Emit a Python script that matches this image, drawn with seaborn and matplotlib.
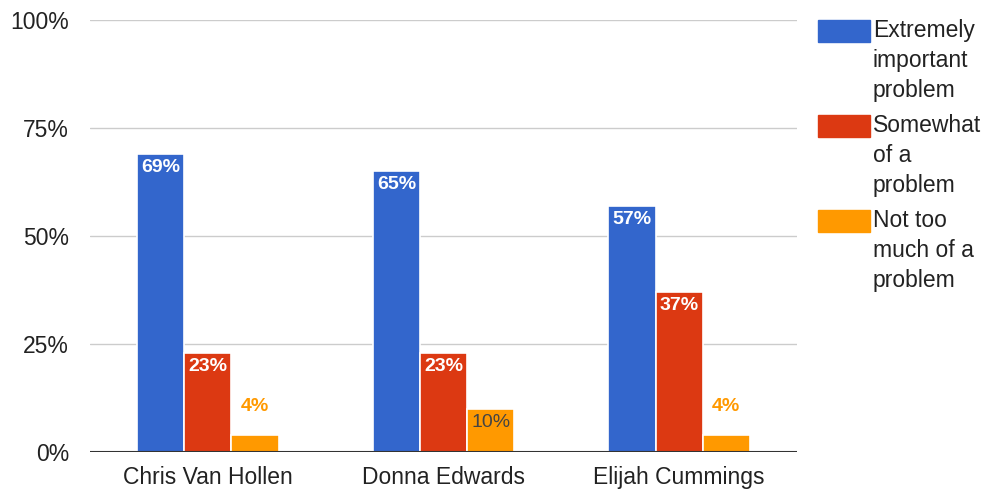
import matplotlib
matplotlib.use("Agg")
import matplotlib.pyplot as plt
import pandas as pd
import seaborn as sns
from matplotlib.patches import Rectangle

# data
candidates = ["Chris Van Hollen", "Donna Edwards", "Elijah Cummings"]
responses = ["Extremely important problem", "Somewhat of a problem",
             "Not too much of a problem"]
legendLabels = ["Extremely\nimportant\nproblem", "Somewhat\nof a\nproblem",
                "Not too\nmuch of a\nproblem"]
extremely = [69, 65, 57]
somewhat = [23, 23, 37]
notMuch = [4, 10, 4]

colors = ["#3366cc", "#dc3912", "#ff9900"]

rows = []
for i, c in enumerate(candidates):
    for r, vals in zip(responses, [extremely, somewhat, notMuch]):
        rows.append({"Candidate": c, "Response": r, "Percent": vals[i]})
df = pd.DataFrame(rows)

sns.set_style("white")
plt.rcParams['font.family'] = ['Liberation Sans', 'DejaVu Sans']

W, H = 985, 491
fig = plt.figure(figsize=(9.85, 4.91), dpi=100)
ax = fig.add_axes([90 / W, 1 - 452 / H, 707 / W, 432 / H])

sns.barplot(data=df, x="Candidate", y="Percent", hue="Response",
            order=candidates, hue_order=responses, palette=colors,
            width=0.6, edgecolor="white", linewidth=1.2, saturation=1,
            legend=False, ax=ax, zorder=3)

ax.set_ylim(0, 100)
ax.set_xlim(-0.5, 2.5)
ax.set_yticks([0, 25, 50, 75, 100])
ax.set_yticklabels(["0%", "25%", "50%", "75%", "100%"])
ax.yaxis.grid(True, color="#cccccc", linewidth=1, zorder=0)
ax.axhline(0, color="#333333", linewidth=1.5, zorder=4)
for s in ax.spines.values():
    s.set_visible(False)
ax.set_xlabel("")
ax.set_ylabel("")
ax.tick_params(axis="both", length=0, labelsize=16.5, colors="#222222")
ax.tick_params(axis="x", pad=10)
ax.tick_params(axis="y", pad=15)

# value labels
for container, col in zip(ax.containers, colors):
    for bar in container:
        h = bar.get_height()
        xc = bar.get_x() + bar.get_width() / 2
        txt = f"{h:.0f}%"
        if h >= 15:
            ax.text(xc, h - 1.2, txt, ha="center", va="top", color="white",
                    fontsize=14, fontweight="bold", zorder=5)
        elif h >= 8:
            ax.text(xc, h - 1.2, txt, ha="center", va="top", color="#444444",
                    fontsize=14, zorder=5)
        else:
            ax.text(xc, h + 4.5, txt, ha="center", va="bottom", color=col,
                    fontsize=14, fontweight="bold", zorder=5)

# legend drawn on the figure, entries stacked down from the top right
for k, (c, lab) in enumerate(zip(colors, legendLabels)):
    top = 20 + 95 * k
    fig.patches.append(Rectangle((818 / W, 1 - (top + 22) / H), 52 / W, 22 / H,
                                 transform=fig.transFigure, facecolor=c,
                                 edgecolor=c, figure=fig))
    fig.text(873 / W, 1 - (top - 1) / H, lab, ha="left", va="top",
             fontsize=16.5, color="#222222", linespacing=1.38)

plt.savefig("out.png", dpi=100)
